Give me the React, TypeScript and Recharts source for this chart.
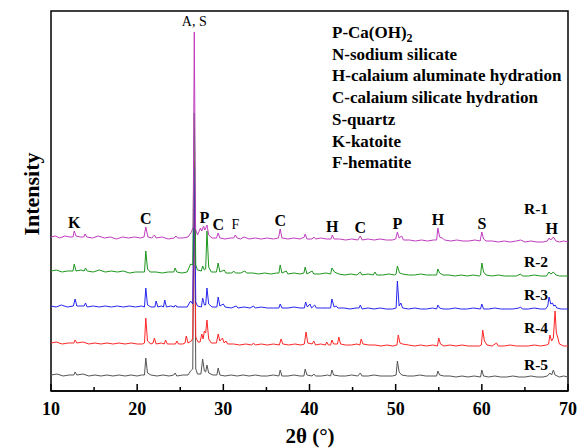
import { LineChart, Line, XAxis, YAxis, ReferenceArea, ReferenceDot } from "recharts";

type Pt = [number, number];

const SAMPLES = ["R-1", "R-2", "R-3", "R-4", "R-5"];
const OFFSETS = [134, 100, 65, 28, 0];
const COLORS = ["#C03CC0", "#1E961E", "#2626EE", "#FF2626", "#555555"];
const THETA_TICKS = [10, 15, 20, 25, 30, 35, 40, 45, 50, 55, 60, 65, 70];

// 2theta, intensity (a.u.)
const r1: Pt[] = [[10,20],[10.5,21],[11,19],[11.6,21],[12.2,20],[12.55,20],[12.7,26],[12.9,21],[13.4,20],[13.8,20],[13.95,23],[14.15,20],[14.8,19],[15.5,21],[16.2,19],[16.9,20],[17.6,18],[18.3,20],[19,19],[19.7,20],[20.4,19],[20.8,20],[21.0,30],[21.25,20],[21.7,19],[22.0,22],[22.2,19],[22.9,20],[23.6,18],[24.3,19],[24.5,21],[24.7,19],[25.3,19],[25.9,20],[26.3,25],[26.5,30],[26.63,225],[26.78,28],[27.0,22],[27.35,29],[27.5,26],[27.7,31],[27.85,27],[28.1,32],[28.3,22],[28.7,19],[29.2,19],[29.4,24],[29.6,19],[30.2,18],[30.8,19],[31.2,19],[31.4,22],[31.6,19],[32.0,18],[32.4,20],[33.0,18],[33.7,19],[34.4,18],[35.1,19],[35.8,18],[36.4,19],[36.6,28],[36.8,19],[37.5,18],[38.2,19],[38.9,18],[39.4,20],[39.5,23],[39.7,18],[40.3,18],[40.5,20],[40.7,18],[41.3,19],[42.0,18],[42.5,18],[42.65,22],[42.85,18],[43.5,18],[44.2,17],[44.9,18],[45.6,17],[45.9,21],[46.1,17],[46.8,18],[47.5,17],[48.2,18],[48.9,17],[49.6,17],[50.0,18],[50.2,25],[50.4,19],[50.7,21],[50.9,17],[51.6,17],[52.3,16],[53.0,17],[53.7,16],[54.4,17],[54.75,17],[54.9,29],[55.1,20],[55.4,19],[55.7,17],[56.4,16],[57.1,17],[57.8,16],[58.5,16],[59.2,17],[59.8,16],[60.0,25],[60.2,18],[60.5,16],[61.2,16],[61.9,15],[62.6,16],[63.3,15],[64.0,16],[64.5,17],[65.0,15],[65.7,16],[66.4,15],[67.1,15],[67.6,16],[67.8,19],[68.0,17],[68.3,20],[68.6,16],[69.0,15],[69.5,16],[70,15]];

const r2: Pt[] = [[10,20],[10.6,21],[11.3,19],[11.9,20],[12.55,20],[12.7,27],[12.9,20],[13.5,21],[13.85,20],[14.0,23],[14.2,20],[14.9,19],[15.6,21],[16.3,19],[17.0,20],[17.7,19],[18.4,20],[19.1,18],[19.8,19],[20.5,19],[20.85,19],[21.0,40],[21.2,22],[21.5,19],[22.2,19],[22.9,18],[23.6,19],[24.25,19],[24.4,23],[24.6,19],[25.2,18],[25.8,19],[26.2,27],[26.45,26],[26.63,178],[26.8,26],[27.0,21],[27.45,20],[27.6,25],[27.8,21],[27.95,22],[28.1,60],[28.3,24],[28.6,19],[29.2,19],[29.4,28],[29.6,19],[30.1,21],[30.3,18],[31.0,18],[31.2,20],[31.4,18],[32.0,18],[32.5,20],[32.7,18],[33.4,18],[34.1,17],[34.8,18],[35.5,17],[36.2,18],[36.45,18],[36.6,26],[36.8,18],[37.3,20],[37.5,17],[38.2,18],[38.9,17],[39.35,18],[39.5,24],[39.7,17],[40.3,20],[40.5,17],[41.2,17],[41.9,18],[42.45,17],[42.6,23],[42.9,19],[43.4,17],[44.1,16],[44.8,17],[45.5,16],[45.9,19],[46.1,16],[46.8,17],[47.4,16],[47.6,19],[47.8,16],[48.5,16],[49.2,17],[49.9,16],[50.05,17],[50.2,25],[50.45,18],[50.8,17],[51.5,16],[52.2,16],[52.9,17],[53.6,16],[54.3,16],[54.75,16],[54.9,22],[55.1,18],[55.5,16],[56.2,16],[56.9,15],[57.6,16],[58.3,15],[59.0,16],[59.7,15],[59.85,16],[60.0,28],[60.2,19],[60.5,16],[61.2,15],[61.9,16],[62.6,15],[63.3,15],[64.0,15],[64.5,17],[64.7,15],[65.4,15],[66.1,16],[66.8,15],[67.5,15],[67.8,19],[68.0,17],[68.3,19],[68.6,16],[69.0,15],[69.5,15],[70,15]];

const r3: Pt[] = [[10,20],[10.6,19],[11.2,21],[11.9,19],[12.6,20],[12.8,27],[13.0,20],[13.6,20],[13.85,20],[14.0,23],[14.2,19],[14.9,20],[15.6,19],[16.3,20],[17.0,19],[17.7,20],[18.4,19],[19.1,20],[19.8,19],[20.5,20],[20.85,19],[21.0,38],[21.2,21],[21.6,19],[22.05,19],[22.2,25],[22.4,19],[22.8,20],[23.05,19],[23.2,26],[23.4,19],[23.9,20],[24.3,19],[24.45,21],[24.6,19],[25.2,19],[25.8,19],[26.2,25],[26.45,22],[26.63,159],[26.8,24],[27.0,20],[27.45,19],[27.6,28],[27.8,21],[27.95,21],[28.1,38],[28.3,22],[28.7,19],[29.25,19],[29.4,29],[29.6,20],[30.0,22],[30.2,19],[30.9,18],[31.5,20],[31.7,18],[32.4,19],[33.1,18],[33.5,20],[33.7,18],[34.4,19],[35.1,18],[35.8,18],[36.45,18],[36.6,22],[36.8,18],[37.5,18],[38.2,19],[38.9,18],[39.4,18],[39.55,24],[39.75,19],[40.05,22],[40.25,18],[40.6,21],[40.8,18],[41.4,18],[42.1,18],[42.45,18],[42.6,27],[42.85,19],[43.1,20],[43.3,18],[44.0,18],[44.7,17],[45.4,18],[45.75,18],[45.9,21],[46.1,17],[46.8,18],[47.5,17],[48.2,18],[48.9,17],[49.6,17],[50.05,18],[50.2,45],[50.4,20],[50.6,23],[50.8,18],[51.5,17],[52.2,18],[52.9,17],[53.6,17],[54.3,18],[54.75,17],[54.9,21],[55.1,18],[55.5,17],[56.2,17],[56.9,18],[57.6,17],[58.3,17],[59.0,18],[59.85,17],[60.0,22],[60.2,17],[60.8,17],[61.5,18],[62.2,17],[62.9,17],[63.6,17],[64.3,18],[64.5,19],[64.7,17],[65.4,17],[66.1,18],[66.8,17],[67.4,17],[67.65,20],[67.8,29],[68.0,22],[68.2,23],[68.35,20],[68.5,21],[68.7,18],[69.2,17],[69.6,17],[70,17]];

const r4: Pt[] = [[10,20],[10.6,21],[11.3,19],[12.0,20],[12.65,20],[12.8,23],[13.0,20],[13.7,21],[14.4,19],[15.1,20],[15.8,19],[16.5,20],[17.2,19],[17.9,20],[18.6,19],[19.3,20],[20.0,19],[20.6,19],[20.85,20],[21.0,45],[21.2,22],[21.6,19],[21.85,20],[22.0,25],[22.2,19],[22.8,20],[23.15,19],[23.3,23],[23.5,19],[24.1,19],[24.45,19],[24.6,22],[24.8,19],[25.3,19],[25.55,20],[25.7,27],[25.9,20],[26.3,22],[26.45,25],[26.63,202],[26.8,26],[27.05,21],[27.3,21],[27.5,29],[27.65,24],[27.8,32],[27.95,30],[28.1,43],[28.3,24],[28.6,20],[29.2,20],[29.4,29],[29.6,22],[29.9,25],[30.1,20],[30.3,22],[30.5,19],[31.2,19],[31.9,18],[32.6,19],[33.3,18],[33.5,20],[33.7,18],[34.4,19],[35.1,18],[35.8,19],[36.5,18],[36.7,24],[36.9,19],[37.6,18],[38.3,19],[39.0,18],[39.4,19],[39.6,31],[39.8,20],[40.3,19],[40.5,22],[40.7,18],[41.3,19],[41.85,18],[42.0,21],[42.2,18],[42.45,18],[42.6,23],[42.8,19],[43.25,19],[43.4,26],[43.6,19],[44.2,18],[44.9,18],[45.5,19],[45.85,18],[46.0,24],[46.2,19],[46.9,18],[47.6,18],[48.3,17],[49.0,18],[49.7,17],[50.15,18],[50.3,28],[50.5,20],[50.8,19],[51.5,18],[52.2,17],[52.9,18],[53.6,17],[54.3,18],[54.85,17],[55.0,25],[55.2,19],[55.6,17],[56.3,18],[57.0,17],[57.7,18],[58.4,17],[59.1,17],[59.7,17],[59.95,18],[60.1,33],[60.3,22],[60.6,18],[61.2,17],[61.7,20],[61.9,17],[62.6,17],[63.3,18],[64.0,17],[64.7,17],[65.4,17],[66.1,18],[66.8,17],[67.5,18],[67.75,19],[67.9,28],[68.1,22],[68.3,25],[68.5,52],[68.65,30],[68.8,26],[69.0,19],[69.5,17],[70,17]];

const r5: Pt[] = [[10,16],[10.7,17],[11.4,15],[12.1,16],[12.65,16],[12.8,19],[13.0,16],[13.7,17],[14.4,15],[15.1,16],[15.8,15],[16.5,16],[17.2,15],[17.9,16],[18.6,15],[19.3,16],[20.0,15],[20.5,16],[20.85,16],[21.0,33],[21.2,18],[21.6,16],[22.3,15],[23.0,16],[23.7,15],[24.25,16],[24.4,18],[24.6,15],[25.3,16],[25.9,16],[26.2,20],[26.45,22],[26.63,220],[26.8,22],[27.0,17],[27.4,17],[27.6,32],[27.8,20],[27.95,19],[28.1,26],[28.3,18],[28.8,16],[29.25,16],[29.4,23],[29.6,16],[30.2,15],[30.9,16],[31.6,15],[32.3,16],[33.0,15],[33.7,16],[34.4,15],[35.1,15],[35.8,16],[36.45,15],[36.6,21],[36.8,15],[37.5,15],[38.2,16],[38.9,15],[39.35,15],[39.5,22],[39.7,16],[40.3,15],[40.5,17],[40.7,15],[41.4,15],[42.1,16],[42.45,15],[42.6,21],[42.8,16],[43.5,15],[44.2,15],[44.9,16],[45.6,15],[45.9,18],[46.1,15],[46.8,15],[47.5,16],[48.2,15],[48.9,15],[49.6,15],[50.05,16],[50.2,30],[50.4,19],[50.7,16],[51.4,15],[52.1,15],[52.8,16],[53.5,15],[54.2,15],[54.75,15],[54.9,20],[55.1,16],[55.6,15],[56.3,15],[57.0,14],[57.7,15],[58.4,14],[59.1,15],[59.85,14],[60.0,21],[60.2,15],[60.8,14],[61.5,15],[62.2,14],[62.9,14],[63.6,15],[64.3,14],[65.0,14],[65.7,15],[66.4,14],[67.1,14],[67.6,15],[67.9,18],[68.1,16],[68.3,21],[68.5,16],[69.0,14],[69.5,15],[70,14]];

const SERIES = [r1, r2, r3, r4, r5];

// phase labels above R-1 peaks
const PEAK_LABELS: [string, number][] = [["K",12.7],["C",21.0],["A, S",26.63],["P",27.8],["C",29.4],["F",31.4],["C",36.6],["H",42.65],["C",45.9],["P",50.2],["H",54.9],["S",60.0],["H",68.1]];

const LEGEND = ["N-sodium silicate","H-calaium aluminate hydration","C-calaium silicate hydration","S-quartz","K-katoite","F-hematite"];

const SERIF = "Liberation Serif";
const serifStyle = { fontFamily: SERIF };

const peakTop = (t: number) => {
  let m = 0;
  r1.forEach(([x, v]) => { if (Math.abs(x - t) <= 0.3 && v > m) m = v; });
  return m + OFFSETS[0];
};

const ThetaTick = (props: any) => {
  const { x, y, payload } = props;
  const major = payload.value % 10 === 0;
  return (
    <g>
      <line x1={x} x2={x} y1={y} y2={y - (major ? 7 : 4)} stroke="#000" strokeWidth={1.5} />
      {major && (
        <text x={x} y={y + 24} textAnchor="middle" style={serifStyle} fontWeight="bold" fontSize={18} fill="#000">
          {payload.value}
        </text>
      )}
    </g>
  );
};

export default function App() {
  const lines = SERIES.map((pts, i) => pts.map(([t, v]) => ({ t, v: v + OFFSETS[i] })));
  const order = [4, 3, 2, 1, 0];
  return (
    <div style={{ position: "absolute", left: 0, top: 0, width: 579, height: 448, background: "#fff", fontFamily: SERIF }}>
      <LineChart width={579} height={448} margin={{ top: 11, right: 11, left: 51, bottom: 0 }}>
        <XAxis dataKey="t" type="number" domain={[10, 70]} ticks={THETA_TICKS} interval={0}
          tickSize={0} tickMargin={0} tickLine={false} tick={<ThetaTick />} height={57}
          axisLine={{ stroke: "#000", strokeWidth: 1.5 }} allowDuplicatedCategory={false} />
        <YAxis type="number" domain={[0, 380]} hide />
        <ReferenceArea x1={10} x2={70} y1={0} y2={380} fill="none" stroke="#000" strokeWidth={1.5} />
        {order.map((i) => (
          <Line key={SAMPLES[i]} data={lines[i]} dataKey="v" name={SAMPLES[i]} type="linear"
            stroke={COLORS[i]} strokeWidth={1} dot={false} isAnimationActive={false} />
        ))}
        {PEAK_LABELS.map(([txt, t], k) => {
          const plain = txt === "A, S" || txt === "F";
          return (
            <ReferenceDot key={k} x={t} y={peakTop(t)} r={0.5} fill="none" stroke="none"
              label={{ value: txt, position: "top", offset: plain ? 6 : 3, fill: "#000",
                fontSize: plain ? 14 : 16, fontWeight: plain ? "normal" : "bold", style: serifStyle }} />
          );
        })}
      </LineChart>
      <svg width={579} height={448} style={{ position: "absolute", left: 0, top: 0, pointerEvents: "none" }}>
        <text x={31} y={194} transform="rotate(-90 31 194)" textAnchor="middle" dominantBaseline="central"
          style={serifStyle} fontWeight="bold" fontSize={22} fill="#000">Intensity</text>
        <text x={310} y={443} textAnchor="middle" style={serifStyle} fontWeight="bold" fontSize={21} fill="#000">2θ (°)</text>
        <g style={serifStyle} fontWeight="bold" fontSize={17} fill="#000">
          <text x={332} y={38}>P-Ca(OH)<tspan dy={4} fontSize={12}>2</tspan></text>
          {LEGEND.map((s, k) => (
            <text key={s} x={332} y={59.7 + k * 21.7}>{s}</text>
          ))}
          {SAMPLES.map((s, k) => (
            <text key={s} x={536} y={[214, 267, 300, 333, 370][k]} textAnchor="middle" fontSize={15.5}>{s}</text>
          ))}
        </g>
      </svg>
    </div>
  );
}
